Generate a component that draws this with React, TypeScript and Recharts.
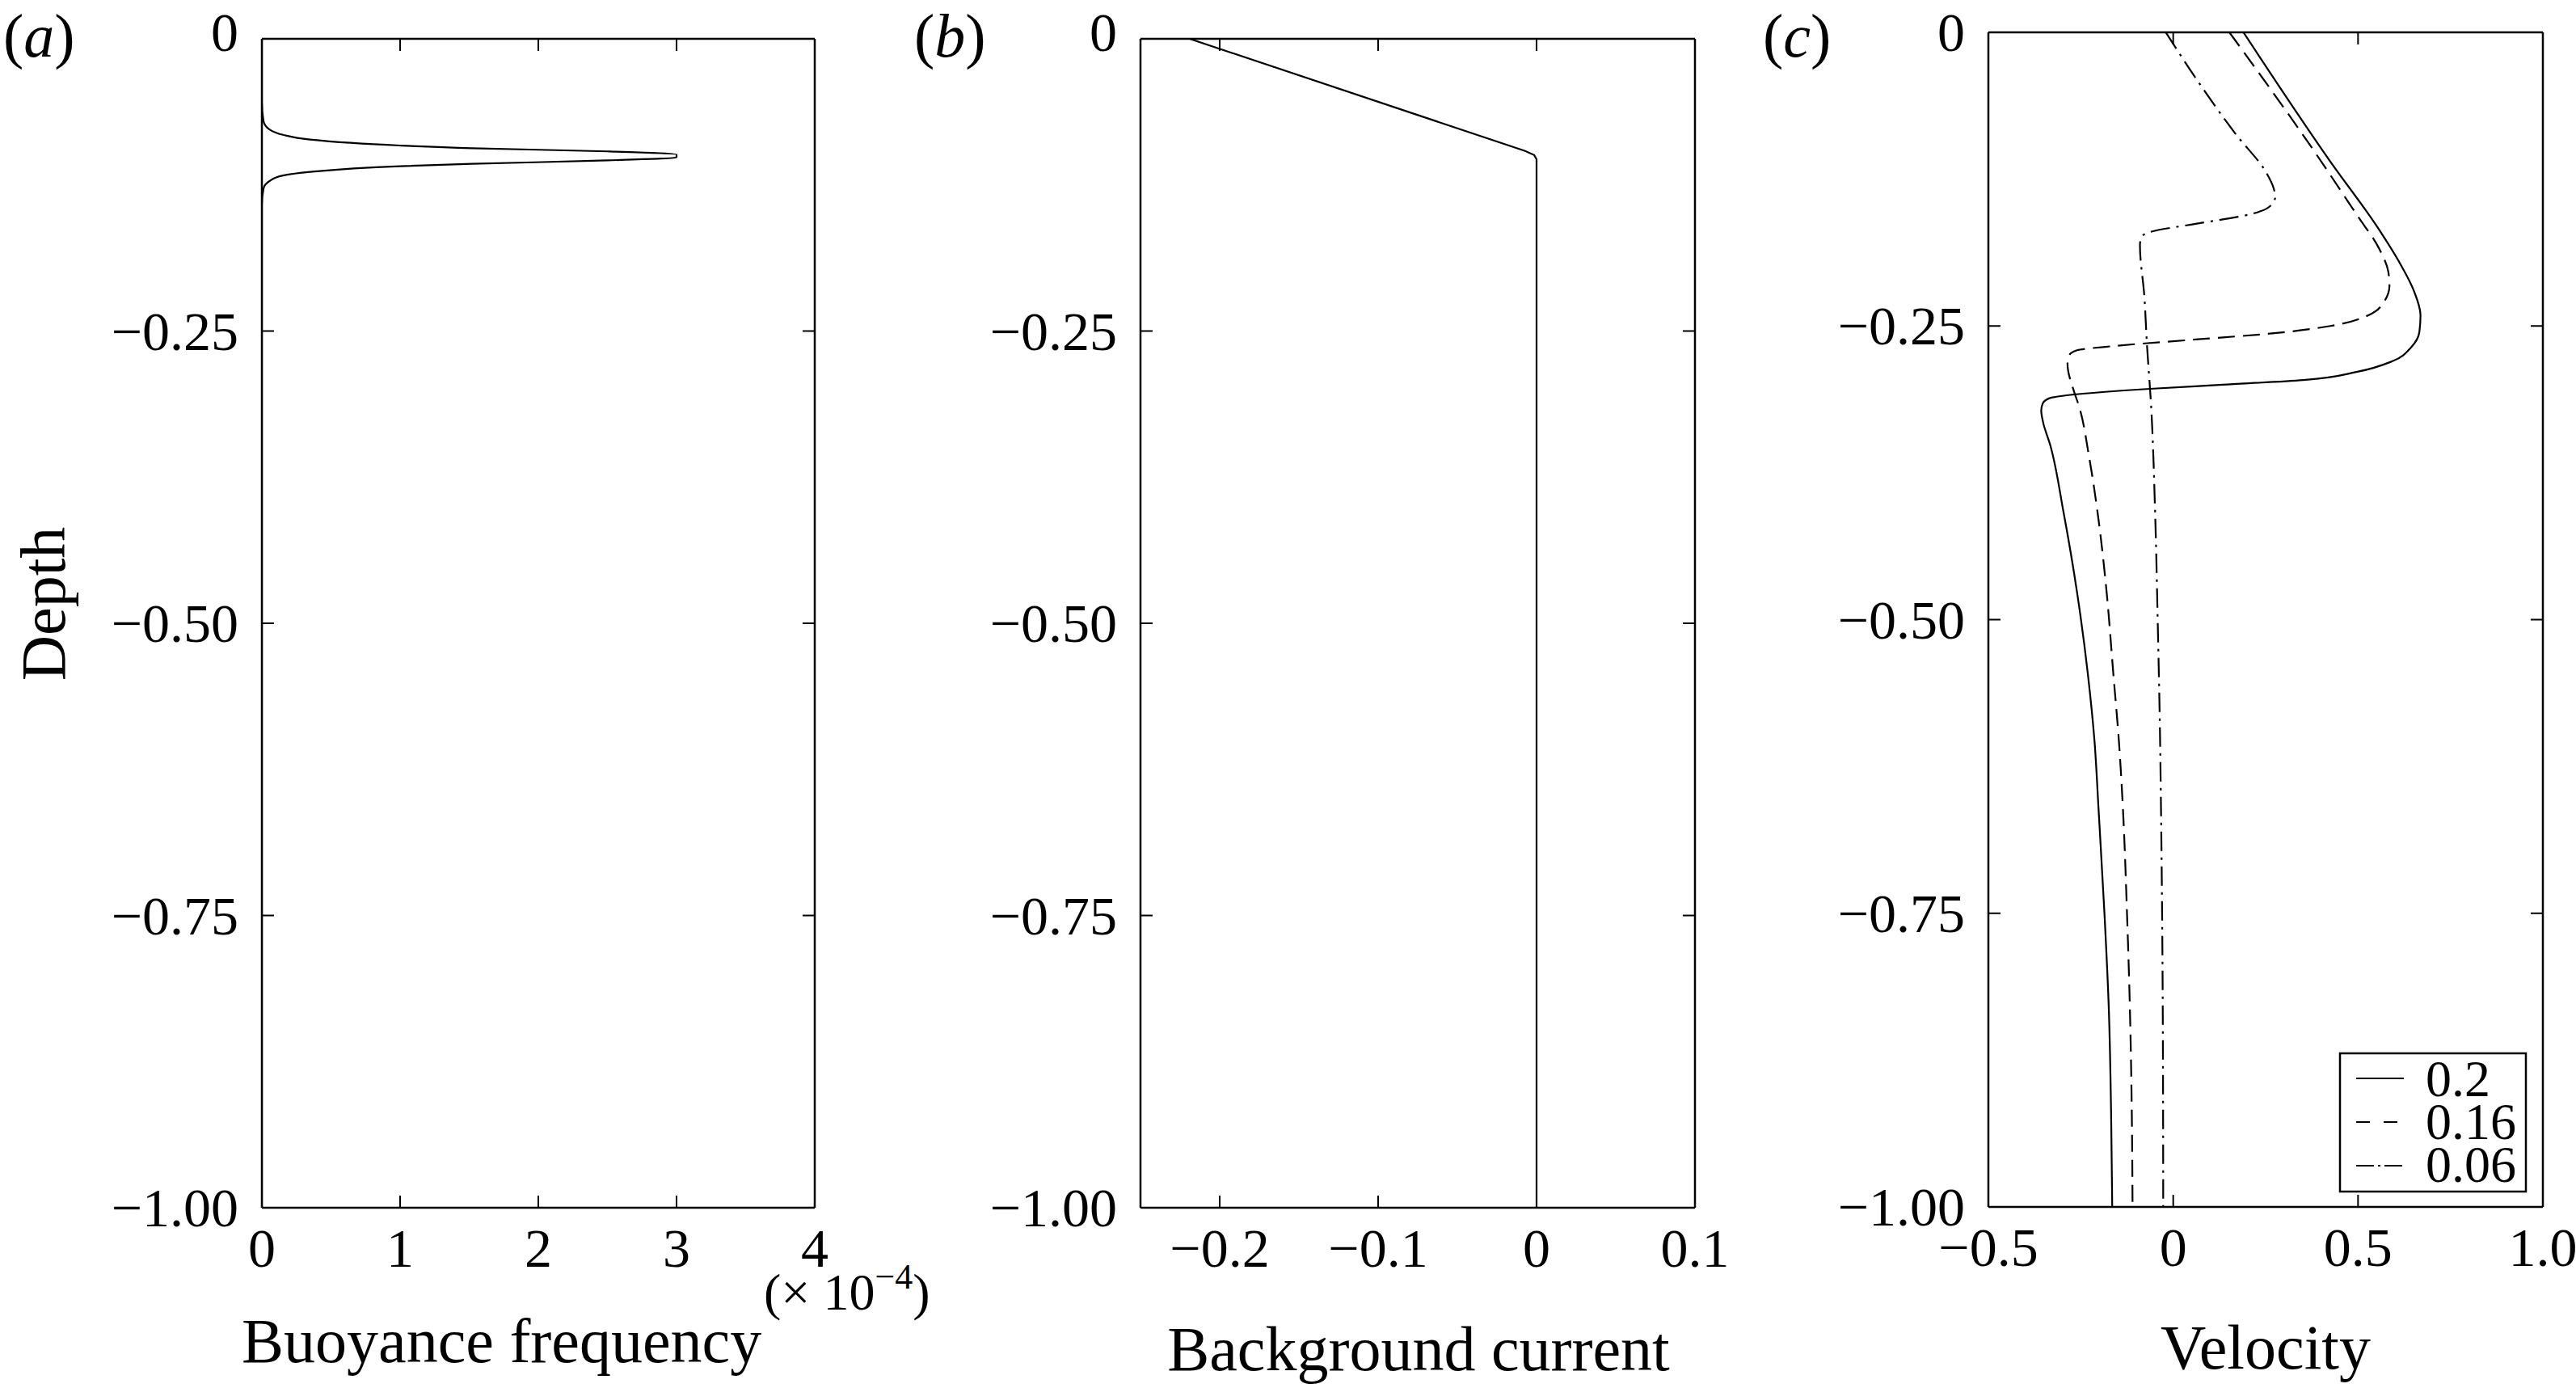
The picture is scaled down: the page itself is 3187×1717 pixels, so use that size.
import { LineChart, Line, XAxis, YAxis, ReferenceLine } from 'recharts';

type Pt = { v: number; d: number };

const W = 3187;
const H = 1717;
const FONT = "'Liberation Serif', 'Times New Roman', serif";
const TICK = 15;

const depthTicks = [0, -0.25, -0.5, -0.75, -1];
const depthTickLabels = ['0', '\u22120.25', '\u22120.50', '\u22120.75', '\u22121.00'];
const buoyancyTicks = [0, 1, 2, 3, 4];
const buoyancyTickLabels = ['0', '1', '2', '3', '4'];
const currentTicks = [-0.2, -0.1, 0, 0.1];
const currentTickLabels = ['\u22120.2', '\u22120.1', '0', '0.1'];
const velocityTicks = [-0.5, 0, 0.5, 1];
const velocityTickLabels = ['\u22120.5', '0', '0.5', '1.0'];
const legendLabels = ['0.2', '0.16', '0.06'];

// (a) buoyancy frequency (x 1e-4) against depth
const buoyancyProfile: Pt[] = [
  { v: 0, d: 0 }, { v: 0, d: -0.054 }, { v: 0.012, d: -0.0705 }, { v: 0.055, d: -0.0775 },
  { v: 0.152, d: -0.0821 }, { v: 0.348, d: -0.0862 }, { v: 1.0, d: -0.0913 }, { v: 1.52, d: -0.0936 },
  { v: 2.5, d: -0.0963 }, { v: 3.0, d: -0.099 }, { v: 3.0, d: -0.1015 }, { v: 2.5, d: -0.104 },
  { v: 1.52, d: -0.107 }, { v: 1.0, d: -0.109 }, { v: 0.348, d: -0.1139 }, { v: 0.152, d: -0.117 },
  { v: 0.055, d: -0.1217 }, { v: 0.012, d: -0.128 }, { v: 0, d: -0.142 }, { v: 0, d: -1 },
];

// (b) background current
const currentProfile: Pt[] = [
  { v: -0.219, d: 0 }, { v: -0.0072, d: -0.0959 }, { v: -0.0015, d: -0.0995 },
  { v: 0, d: -0.103 }, { v: 0, d: -1 },
];

// (c) velocity profiles
const velocity020: Pt[] = [
  { v: 0.19, d: 0 }, { v: 0.425, d: -0.11 }, { v: 0.556, d: -0.1675 }, { v: 0.614, d: -0.197 },
  { v: 0.651, d: -0.22 }, { v: 0.669, d: -0.241 }, { v: 0.666, d: -0.255 }, { v: 0.644, d: -0.268 },
  { v: 0.593, d: -0.28 }, { v: 0.498, d: -0.289 }, { v: 0.352, d: -0.296 }, { v: 0.134, d: -0.3 },
  { v: -0.063, d: -0.3035 }, { v: -0.304, d: -0.3097 }, { v: -0.335, d: -0.3115 }, { v: -0.353, d: -0.316 },
  { v: -0.357, d: -0.322 }, { v: -0.352, d: -0.332 }, { v: -0.333, d: -0.351 }, { v: -0.297, d: -0.408 },
  { v: -0.26, d: -0.477 }, { v: -0.231, d: -0.546 }, { v: -0.213, d: -0.603 }, { v: -0.202, d: -0.661 },
  { v: -0.186, d: -0.75 }, { v: -0.174, d: -0.833 }, { v: -0.168, d: -0.92 }, { v: -0.165, d: -1 },
];

const velocity016: Pt[] = [
  { v: 0.152, d: 0 }, { v: 0.381, d: -0.101 }, { v: 0.498, d: -0.156 }, { v: 0.556, d: -0.1835 },
  { v: 0.582, d: -0.204 }, { v: 0.585, d: -0.2157 }, { v: 0.571, d: -0.229 }, { v: 0.527, d: -0.241 },
  { v: 0.425, d: -0.25 }, { v: 0.279, d: -0.256 }, { v: 0.061, d: -0.2615 }, { v: -0.158, d: -0.267 },
  { v: -0.26, d: -0.2707 }, { v: -0.282, d: -0.2753 }, { v: -0.286, d: -0.282 }, { v: -0.267, d: -0.307 },
  { v: -0.2565, d: -0.3166 }, { v: -0.227, d: -0.3625 }, { v: -0.202, d: -0.415 }, { v: -0.18, d: -0.477 },
  { v: -0.162, d: -0.546 }, { v: -0.147, d: -0.603 }, { v: -0.136, d: -0.661 }, { v: -0.125, d: -0.75 },
  { v: -0.117, d: -0.833 }, { v: -0.112, d: -0.92 }, { v: -0.11, d: -1 },
];

const velocity006: Pt[] = [
  { v: -0.02, d: 0 }, { v: 0.061, d: -0.039 }, { v: 0.17, d: -0.087 }, { v: 0.251, d: -0.119 },
  { v: 0.272, d: -0.133 }, { v: 0.276, d: -0.14 }, { v: 0.258, d: -0.149 }, { v: 0.207, d: -0.155 },
  { v: 0.061, d: -0.163 }, { v: -0.063, d: -0.17 }, { v: -0.085, d: -0.174 }, { v: -0.09, d: -0.181 },
  { v: -0.078, d: -0.225 }, { v: -0.071, d: -0.266 }, { v: -0.06, d: -0.3166 }, { v: -0.049, d: -0.408 },
  { v: -0.042, d: -0.5 }, { v: -0.036, d: -0.592 }, { v: -0.033, d: -0.661 }, { v: -0.03, d: -0.75 },
  { v: -0.028, d: -0.85 }, { v: -0.027, d: -1 },
];

const DASHED = '21 10';
const DASH_DOT = '24 8 3 8';

type Series = { data: Pt[]; dash?: string; curve?: 'linear' | 'monotoneY' };
type PanelProps = {
  originX: number;
  width: number;
  box: { left: number; right: number; top: number; bottom: number };
  xDomain: [number, number];
  xTicks: number[];
  xLabels: string[];
  series: Series[];
  zeroShift: number;
};

const labelFor = (ticks: number[], labels: string[], value: number) => {
  const i = ticks.findIndex((t) => Math.abs(t - value) < 1e-9);
  return i >= 0 ? labels[i] : String(value);
};

function Panel({ originX, width, box, xDomain, xTicks, xLabels, series, zeroShift }: PanelProps) {
  const left = box.left - originX;
  const right = box.right - originX;
  const { top, bottom } = box;
  const yAxisW = 150;
  const xAxisH = 100;

  const xTick = (p: any) => {
    const x = p.x;
    return (
      <g>
        <line x1={x} x2={x} y1={bottom} y2={bottom - TICK} stroke='#000' strokeWidth={2} />
        <line x1={x} x2={x} y1={top} y2={top + TICK} stroke='#000' strokeWidth={2} />
        <text x={x} y={bottom + 73} textAnchor='middle' fontFamily={FONT} fontSize={68} fill='#000'>
          {labelFor(xTicks, xLabels, p.payload.value)}
        </text>
      </g>
    );
  };

  const yTick = (p: any) => {
    const y = p.y;
    const shift = Math.abs(p.payload.value) < 1e-9 ? zeroShift : 0;
    return (
      <g>
        <line x1={left} x2={left + TICK} y1={y} y2={y} stroke='#000' strokeWidth={2} />
        <line x1={right} x2={right - TICK} y1={y} y2={y} stroke='#000' strokeWidth={2} />
        <text x={left - 29} y={y + 23 + shift} textAnchor='end' fontFamily={FONT} fontSize={68} fill='#000'>
          {labelFor(depthTicks, depthTickLabels, p.payload.value)}
        </text>
      </g>
    );
  };

  return (
    <div style={{ position: 'absolute', left: originX, top: 0 }}>
      <LineChart
        width={width}
        height={H}
        margin={{ top, left: left - yAxisW, right: width - right, bottom: H - bottom - xAxisH }}>
        <XAxis
          type='number'
          dataKey='v'
          domain={xDomain}
          ticks={xTicks}
          allowDataOverflow
          interval={0}
          height={xAxisH}
          axisLine={{ stroke: '#000', strokeWidth: 2.5 }}
          tickLine={false}
          tick={xTick}
        />
        <YAxis
          type='number'
          domain={[-1, 0]}
          ticks={depthTicks}
          allowDataOverflow
          interval={0}
          width={yAxisW}
          axisLine={{ stroke: '#000', strokeWidth: 2.5 }}
          tickLine={false}
          tick={yTick}
        />
        <ReferenceLine y={0} stroke='#000' strokeWidth={2.5} />
        <ReferenceLine x={xDomain[1]} stroke='#000' strokeWidth={2.5} />
        {series.map((s, i) => (
          <Line
            key={i}
            data={s.data}
            dataKey='d'
            type={s.curve ?? 'monotoneY'}
            stroke='#000'
            strokeWidth={2.2}
            strokeDasharray={s.dash}
            dot={false}
            activeDot={false}
            isAnimationActive={false}
          />
        ))}
      </LineChart>
    </div>
  );
}

const legendDash = [undefined, '17 17', '22 5 3 5'];

export default function App() {
  return (
    <div style={{ position: 'absolute', left: 0, top: 0, width: W, height: H, background: '#fff' }}>
      <Panel
        originX={0}
        width={1200}
        box={{ left: 324, right: 1008, top: 48, bottom: 1494 }}
        xDomain={[0, 4]}
        xTicks={buoyancyTicks}
        xLabels={buoyancyTickLabels}
        series={[{ data: buoyancyProfile }]}
        zeroShift={-8}
      />
      <Panel
        originX={1100}
        width={1100}
        box={{ left: 1411, right: 2097, top: 48, bottom: 1494 }}
        xDomain={[-0.25, 0.1]}
        xTicks={currentTicks}
        xLabels={currentTickLabels}
        series={[{ data: currentProfile, curve: 'linear' }]}
        zeroShift={-8}
      />
      <Panel
        originX={2100}
        width={1087}
        box={{ left: 2460, right: 3146, top: 40, bottom: 1493 }}
        xDomain={[-0.5, 1]}
        xTicks={velocityTicks}
        xLabels={velocityTickLabels}
        series={[
          { data: velocity020 },
          { data: velocity016, dash: DASHED },
          { data: velocity006, dash: DASH_DOT },
        ]}
        zeroShift={0}
      />

      {/* titles, panel letters and legend */}
      <svg
        width={W}
        height={H}
        style={{ position: 'absolute', left: 0, top: 0, pointerEvents: 'none' }}
        fontFamily={FONT}
        fill='#000'>
        <text x={4} y={70} fontSize={76}>
          (<tspan fontStyle='italic'>a</tspan>)
        </text>
        <text x={1131} y={70} fontSize={76}>
          (<tspan fontStyle='italic'>b</tspan>)
        </text>
        <text x={2181} y={70} fontSize={76}>
          (<tspan fontStyle='italic'>c</tspan>)
        </text>

        <text transform='translate(80, 747) rotate(-90)' textAnchor='middle' fontSize={78}>
          Depth
        </text>
        <text x={299} y={1685} fontSize={78}>
          Buoyance frequency
        </text>
        <text x={945} y={1620} fontSize={64}>
          (× 10<tspan fontSize={44} dy={-26}>−4</tspan>
          <tspan dy={26}>)</tspan>
        </text>
        <text x={1755} y={1695} textAnchor='middle' fontSize={78}>
          Background current
        </text>
        <text x={2803} y={1693} textAnchor='middle' fontSize={78}>
          Velocity
        </text>

        <rect x={2895} y={1303} width={230} height={171} fill='#fff' stroke='#000' strokeWidth={2.5} />
        {legendLabels.map((lab, i) => (
          <g key={lab}>
            <line
              x1={2915}
              x2={2974}
              y1={1334 + i * 54}
              y2={1334 + i * 54}
              stroke='#000'
              strokeWidth={2.2}
              strokeDasharray={legendDash[i]}
            />
            <text x={3001} y={1356 + i * 53} fontSize={64}>
              {lab}
            </text>
          </g>
        ))}
      </svg>
    </div>
  );
}
